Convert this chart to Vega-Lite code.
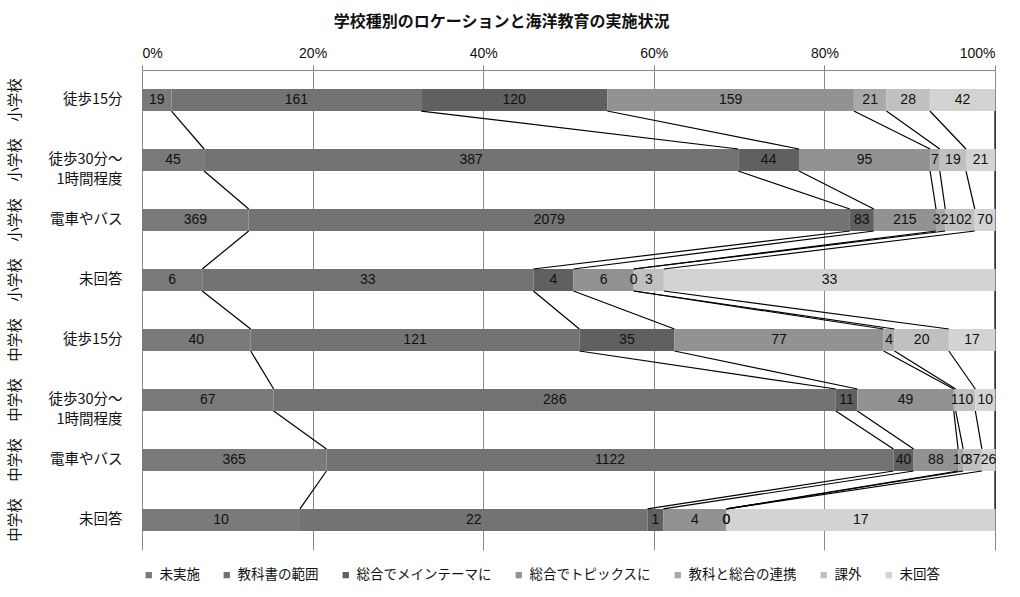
{
  "$schema": "https://vega.github.io/schema/vega-lite/v6.json",
  "autosize": {"type": "none"},
  "width": 853,
  "height": 480,
  "padding": {"left": 142, "top": 70, "right": 25, "bottom": 47},
  "background": "white",
  "config": {"view": {"stroke": null}},
  "title": {"text": "学校種別のロケーションと海洋教育の実施状況", "font": "Noto Sans CJK JP", "fontSize": 16, "fontWeight": "bold", "color": "#111", "anchor": "middle", "frame": "bounds", "offset": 16},
  "data": {"values": [
    {"row": "小学校:徒歩15分", "ri": 1, "series": "未実施", "si": 0, "count": 19},
    {"row": "小学校:徒歩15分", "ri": 1, "series": "教科書の範囲", "si": 1, "count": 161},
    {"row": "小学校:徒歩15分", "ri": 1, "series": "総合でメインテーマに", "si": 2, "count": 120},
    {"row": "小学校:徒歩15分", "ri": 1, "series": "総合でトピックスに", "si": 3, "count": 159},
    {"row": "小学校:徒歩15分", "ri": 1, "series": "教科と総合の連携", "si": 4, "count": 21},
    {"row": "小学校:徒歩15分", "ri": 1, "series": "課外", "si": 5, "count": 28},
    {"row": "小学校:徒歩15分", "ri": 1, "series": "未回答", "si": 6, "count": 42},
    {"row": "小学校:徒歩30分～/1時間程度", "ri": 2, "series": "未実施", "si": 0, "count": 45},
    {"row": "小学校:徒歩30分～/1時間程度", "ri": 2, "series": "教科書の範囲", "si": 1, "count": 387},
    {"row": "小学校:徒歩30分～/1時間程度", "ri": 2, "series": "総合でメインテーマに", "si": 2, "count": 44},
    {"row": "小学校:徒歩30分～/1時間程度", "ri": 2, "series": "総合でトピックスに", "si": 3, "count": 95},
    {"row": "小学校:徒歩30分～/1時間程度", "ri": 2, "series": "教科と総合の連携", "si": 4, "count": 7},
    {"row": "小学校:徒歩30分～/1時間程度", "ri": 2, "series": "課外", "si": 5, "count": 19},
    {"row": "小学校:徒歩30分～/1時間程度", "ri": 2, "series": "未回答", "si": 6, "count": 21},
    {"row": "小学校:電車やバス", "ri": 3, "series": "未実施", "si": 0, "count": 369},
    {"row": "小学校:電車やバス", "ri": 3, "series": "教科書の範囲", "si": 1, "count": 2079},
    {"row": "小学校:電車やバス", "ri": 3, "series": "総合でメインテーマに", "si": 2, "count": 83},
    {"row": "小学校:電車やバス", "ri": 3, "series": "総合でトピックスに", "si": 3, "count": 215},
    {"row": "小学校:電車やバス", "ri": 3, "series": "教科と総合の連携", "si": 4, "count": 32},
    {"row": "小学校:電車やバス", "ri": 3, "series": "課外", "si": 5, "count": 102},
    {"row": "小学校:電車やバス", "ri": 3, "series": "未回答", "si": 6, "count": 70},
    {"row": "小学校:未回答", "ri": 4, "series": "未実施", "si": 0, "count": 6},
    {"row": "小学校:未回答", "ri": 4, "series": "教科書の範囲", "si": 1, "count": 33},
    {"row": "小学校:未回答", "ri": 4, "series": "総合でメインテーマに", "si": 2, "count": 4},
    {"row": "小学校:未回答", "ri": 4, "series": "総合でトピックスに", "si": 3, "count": 6},
    {"row": "小学校:未回答", "ri": 4, "series": "教科と総合の連携", "si": 4, "count": 0},
    {"row": "小学校:未回答", "ri": 4, "series": "課外", "si": 5, "count": 3},
    {"row": "小学校:未回答", "ri": 4, "series": "未回答", "si": 6, "count": 33},
    {"row": "中学校:徒歩15分", "ri": 5, "series": "未実施", "si": 0, "count": 40},
    {"row": "中学校:徒歩15分", "ri": 5, "series": "教科書の範囲", "si": 1, "count": 121},
    {"row": "中学校:徒歩15分", "ri": 5, "series": "総合でメインテーマに", "si": 2, "count": 35},
    {"row": "中学校:徒歩15分", "ri": 5, "series": "総合でトピックスに", "si": 3, "count": 77},
    {"row": "中学校:徒歩15分", "ri": 5, "series": "教科と総合の連携", "si": 4, "count": 4},
    {"row": "中学校:徒歩15分", "ri": 5, "series": "課外", "si": 5, "count": 20},
    {"row": "中学校:徒歩15分", "ri": 5, "series": "未回答", "si": 6, "count": 17},
    {"row": "中学校:徒歩30分～/1時間程度", "ri": 6, "series": "未実施", "si": 0, "count": 67},
    {"row": "中学校:徒歩30分～/1時間程度", "ri": 6, "series": "教科書の範囲", "si": 1, "count": 286},
    {"row": "中学校:徒歩30分～/1時間程度", "ri": 6, "series": "総合でメインテーマに", "si": 2, "count": 11},
    {"row": "中学校:徒歩30分～/1時間程度", "ri": 6, "series": "総合でトピックスに", "si": 3, "count": 49},
    {"row": "中学校:徒歩30分～/1時間程度", "ri": 6, "series": "教科と総合の連携", "si": 4, "count": 1},
    {"row": "中学校:徒歩30分～/1時間程度", "ri": 6, "series": "課外", "si": 5, "count": 10},
    {"row": "中学校:徒歩30分～/1時間程度", "ri": 6, "series": "未回答", "si": 6, "count": 10},
    {"row": "中学校:電車やバス", "ri": 7, "series": "未実施", "si": 0, "count": 365},
    {"row": "中学校:電車やバス", "ri": 7, "series": "教科書の範囲", "si": 1, "count": 1122},
    {"row": "中学校:電車やバス", "ri": 7, "series": "総合でメインテーマに", "si": 2, "count": 40},
    {"row": "中学校:電車やバス", "ri": 7, "series": "総合でトピックスに", "si": 3, "count": 88},
    {"row": "中学校:電車やバス", "ri": 7, "series": "教科と総合の連携", "si": 4, "count": 10},
    {"row": "中学校:電車やバス", "ri": 7, "series": "課外", "si": 5, "count": 37},
    {"row": "中学校:電車やバス", "ri": 7, "series": "未回答", "si": 6, "count": 26},
    {"row": "中学校:未回答", "ri": 8, "series": "未実施", "si": 0, "count": 10},
    {"row": "中学校:未回答", "ri": 8, "series": "教科書の範囲", "si": 1, "count": 22},
    {"row": "中学校:未回答", "ri": 8, "series": "総合でメインテーマに", "si": 2, "count": 1},
    {"row": "中学校:未回答", "ri": 8, "series": "総合でトピックスに", "si": 3, "count": 4},
    {"row": "中学校:未回答", "ri": 8, "series": "教科と総合の連携", "si": 4, "count": 0},
    {"row": "中学校:未回答", "ri": 8, "series": "課外", "si": 5, "count": 0},
    {"row": "中学校:未回答", "ri": 8, "series": "未回答", "si": 6, "count": 17}
  ]},
  "transform": [
    {"joinaggregate": [{"op": "sum", "field": "count", "as": "total"}], "groupby": ["row"]},
    {"window": [{"op": "sum", "field": "count", "as": "cum"}], "groupby": ["row"], "sort": [{"field": "si"}], "frame": [null, 0]},
    {"calculate": "datum.cum / datum.total", "as": "pct"},
    {"calculate": "(datum.cum - datum.count) / datum.total", "as": "pct0"},
    {"calculate": "(datum.cum - datum.count / 2) / datum.total", "as": "pmid"}
  ],
  "resolve": {"axis": {"y": "independent"}},
  "layer": [
    {
      "mark": {"type": "bar"},
      "encoding": {
        "y": {"field": "row", "type": "nominal", "sort": null,
          "scale": {"domain": ["小学校:徒歩15分", "小学校:徒歩30分～/1時間程度", "小学校:電車やバス", "小学校:未回答", "中学校:徒歩15分", "中学校:徒歩30分～/1時間程度", "中学校:電車やバス", "中学校:未回答"], "paddingInner": 0.633, "paddingOuter": 0.317},
          "axis": {"orient": "left", "title": null, "domain": false, "ticks": false, "labelPadding": 20, "labelFont": "Noto Sans CJK JP", "labelFontSize": 14.5, "labelColor": "#111", "labelLineHeight": 20, "labelExpr": "split(split(datum.value, ':')[1], '/')"}},
        "x": {"field": "pct0", "type": "quantitative",
          "scale": {"domain": [0, 1], "nice": false, "zero": true},
          "axis": {"orient": "top", "title": null, "format": "%", "values": [0, 0.2, 0.4, 0.6, 0.8, 1], "labelFont": "Liberation Sans", "labelFontSize": 14, "labelColor": "#111", "labelPadding": 5, "tickSize": 5, "tickColor": "#888", "domainColor": "#888", "gridColor": "#8a8a8a", "gridOpacity": 1, "grid": true}},
        "x2": {"field": "pct"},
        "color": {"field": "series", "type": "nominal",
          "scale": {"domain": ["未実施", "教科書の範囲", "総合でメインテーマに", "総合でトピックスに", "教科と総合の連携", "課外", "未回答"],
                    "range": ["#7a7a7a", "#737373", "#606060", "#929292", "#a9a9a9", "#c0c0c0", "#d3d3d3"]},
          "legend": {"orient": "bottom", "direction": "horizontal", "title": null, "symbolType": "square", "symbolSize": 40, "symbolStrokeWidth": 0, "labelFont": "Noto Sans CJK JP", "labelFontSize": 13.5, "labelColor": "#111", "columnPadding": 20, "offset": 18}}
      }
    },
    {
      "transform": [
        {"window": [{"op": "lead", "field": "pct", "as": "pct2"}, {"op": "lead", "field": "row", "as": "row2"}], "groupby": ["series"], "sort": [{"field": "ri"}]},
        {"filter": "datum.row2 != null"}
      ],
      "mark": {"type": "rule", "color": "#000", "strokeWidth": 1.2},
      "encoding": {
        "y": {"field": "row", "type": "nominal", "sort": null, "bandPosition": 1,
          "axis": {"orient": "left", "title": null, "domain": false, "ticks": false, "labelPadding": 127, "labelAngle": 270, "labelAlign": "center", "labelBaseline": "middle", "labelFont": "Noto Sans CJK JP", "labelFontSize": 14.5, "labelColor": "#111", "labelExpr": "split(datum.value, ':')[0]"}},
        "y2": {"field": "row2", "bandPosition": 0},
        "x": {"field": "pct", "type": "quantitative"},
        "x2": {"field": "pct2"}
      }
    },
    {
      "mark": {"type": "text", "font": "Liberation Sans", "fontSize": 14, "color": "#111"},
      "encoding": {
        "y": {"field": "row", "type": "nominal", "sort": null, "axis": null},
        "x": {"field": "pmid", "type": "quantitative"},
        "text": {"field": "count", "type": "quantitative"}
      }
    }
  ]
}
